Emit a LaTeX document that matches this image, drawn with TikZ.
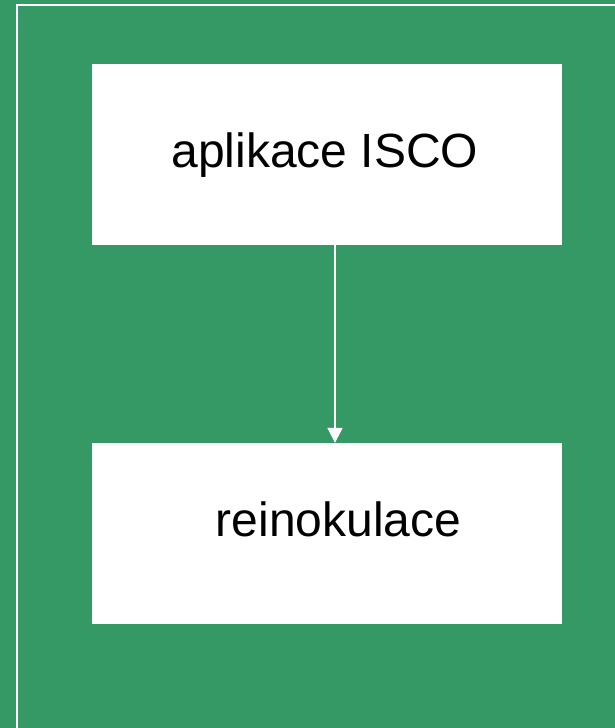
\documentclass[tikz,border=0pt]{standalone}
\usepackage{fontspec}
\setmainfont{Liberation Sans}
\usetikzlibrary{arrows.meta}
\definecolor{bggreen}{RGB}{53,153,102}
\tikzset{
  box/.style={draw=none, fill=white, inner sep=0pt, minimum width=470pt, minimum height=181pt},
  lbl/.style={anchor=base, inner sep=0pt, font=\fontsize{48}{57}\selectfont, text=black},
  conn/.style={white, line width=2pt, -{Triangle[width=15pt,length=15pt]}},
  frame/.style={white, line width=1.5pt}
}
\begin{document}
\begin{tikzpicture}[x=1pt,y=-1pt]
  \useasboundingbox (0,0) rectangle (615,728);
  \clip (0,0) rectangle (615,728);
  \fill[bggreen] (0,0) rectangle (615,728);
  \draw[frame] (17,5) rectangle (660,780);
  \node[box] (b1) at (327,154.5) {};
  \node[box] (b2) at (327,533.5) {};
  \node[lbl] (t1) at (325,167) {aplikace ISCO};
  \node[lbl] (t2) at (338.5,536) {reinokulace};
  \coordinate (ax) at (335,0);
  \draw[conn] (b1.south -| ax) -- (b2.north -| ax);
\end{tikzpicture}
\end{document}
